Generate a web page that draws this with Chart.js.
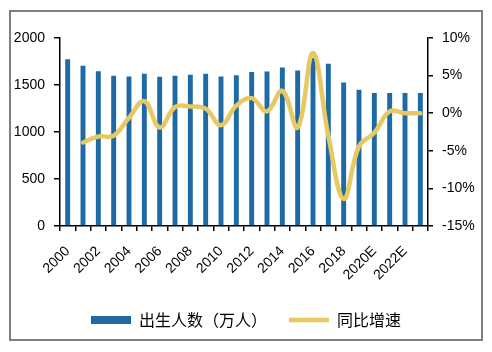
<!DOCTYPE html>
<html>
<head>
<meta charset="utf-8">
<script src="https://cdn.jsdelivr.net/npm/chart.js@4/dist/chart.umd.min.js"></script>
<style>
  html, body { margin: 0; padding: 0; background: #fff; }
  #wrap { position: relative; width: 492px; height: 352px; }
  #frame { position: absolute; left: 9px; top: 10px; width: 470px; height: 327px; border: 2px solid #7f7f7f; pointer-events: none; }
  canvas { position: absolute; left: 0; top: 0; }
</style>
</head>
<body>
<div id="wrap">
  <canvas id="c" width="492" height="352"></canvas>
  <div id="frame"></div>
</div>
<script>
const years = ["2000","2001","2002","2003","2004","2005","2006","2007","2008","2009","2010","2011","2012","2013","2014","2015","2016","2017","2018","2019","2020E","2021E","2022E","2023E"];
const births = [1774,1704,1647,1598,1591,1619,1587,1598,1608,1619,1591,1605,1637,1644,1686,1654,1786,1725,1527,1450,1415,1415,1415,1415];
const growth = [null,-3.9,-3.1,-3.0,-0.6,1.6,-1.9,0.8,0.9,0.6,-1.6,1.0,2.0,0.25,3.0,-1.9,8.0,-3.0,-11.4,-4.4,-2.6,0.25,0,0];
const leftTicks = [0,500,1000,1500,2000];
const rightTicks = [-15,-10,-5,0,5,10];
const seriesNames = ["出生人数（万人）","同比增速"];

const BLUE = "#1D6AA5";
const GOLD = "#E8C862";
const FONT = "'Liberation Sans', Arial, sans-serif";

new Chart(document.getElementById('c'), {
  data: {
    labels: years,
    datasets: [
      {
        type: 'line',
        label: seriesNames[1],
        data: growth,
        yAxisID: 'y1',
        borderColor: GOLD,
        backgroundColor: GOLD,
        borderWidth: 4.5,
        pointRadius: 0,
        pointStyle: 'line',
        tension: 0.4,
        borderCapStyle: 'round',
        order: 0
      },
      {
        type: 'bar',
        label: seriesNames[0],
        data: births,
        yAxisID: 'y',
        backgroundColor: BLUE,
        borderWidth: 0,
        pointStyle: 'rect',
        barPercentage: 0.32,
        categoryPercentage: 1.0,
        order: 1
      }
    ]
  },
  options: {
    responsive: false,
    animation: false,
    layout: { padding: { top: 38, right: 0, left: 0, bottom: 14 } },
    plugins: {
      tooltip: { enabled: false },
      legend: {
        position: 'bottom',
        reverse: true,
        labels: {
          usePointStyle: true,
          pointStyleWidth: 40,
          boxHeight: 8,
          padding: 22,
          color: '#000',
          font: { family: "'Noto Sans CJK SC', sans-serif", size: 16 }
        }
      }
    },
    scales: {
      x: {
        grid: { display: true, drawOnChartArea: false, drawTicks: true, tickLength: 5, color: '#000', offset: true, lineWidth: 1.5 },
        border: { display: true, color: '#000', width: 1.5 },
        ticks: {
          autoSkip: false,
          maxRotation: 45,
          minRotation: 45,
          padding: 12,
          color: '#000',
          font: { family: FONT, size: 14 },
          callback: function(v, i) { return i % 2 === 0 ? years[i] : ''; }
        },
        afterFit: function(s) { s.height = 64; }
      },
      y: {
        position: 'left',
        min: 0, max: 2000,
        afterBuildTicks: function(s) { s.ticks = leftTicks.map(v => ({ value: v })); },
        grid: { display: true, drawOnChartArea: false, drawTicks: true, tickLength: 6, color: '#000', lineWidth: 1.5 },
        border: { display: true, color: '#000', width: 1.5 },
        ticks: { color: '#000', padding: 9, font: { family: FONT, size: 14 }, callback: v => String(v) },
        afterFit: function(s) { s.width = 60; }
      },
      y1: {
        position: 'right',
        min: -15, max: 10,
        afterBuildTicks: function(s) { s.ticks = rightTicks.map(v => ({ value: v })); },
        grid: { display: true, drawOnChartArea: false, drawTicks: true, tickLength: 5, color: '#000', lineWidth: 1.5 },
        border: { display: true, color: '#000', width: 1.5 },
        ticks: { color: '#000', padding: 9, font: { family: FONT, size: 14 }, callback: v => v + '%' },
        afterFit: function(s) { s.width = 64; }
      }
    }
  }
});
</script>
</body>
</html>
